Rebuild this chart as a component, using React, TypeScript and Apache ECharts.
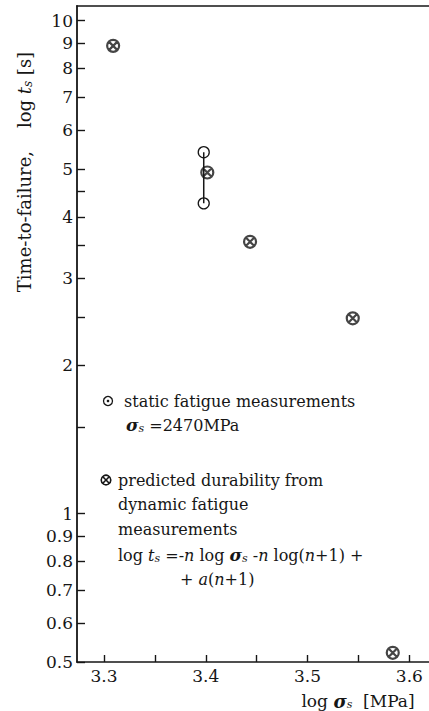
import React, { useEffect, useRef } from "react";
import * as echarts from "echarts";

// ---- data ----
const predictedX = [3.309, 3.4015, 3.4435, 3.5444, 3.5837];
const predictedY = [8.89, 4.92, 3.56, 2.49, 0.522];
const staticX = [3.398, 3.398];
const staticY = [5.41, 4.26];

// ---- axes ----
const yLabelTicks = [0.5, 0.6, 0.7, 0.8, 0.9, 1, 2, 3, 4, 5, 6, 7, 8, 9, 10];
const yMinorTicks = [1.5, 2.5, 3.5, 4.5];
const xLabelTicks = [3.3, 3.4, 3.5, 3.6];
const xMinorTicks = [3.35, 3.45, 3.55];
const xRange = [3.2735, 3.6193];
const yRange = [0.5, 10.71];

const SERIF = "'DejaVu Serif', 'Liberation Serif', serif";
const INK = "#161616";

const lg = (v: number) => Math.log10(v);

const rich = {
  n: { fontFamily: SERIF, fontSize: 16, fill: INK },
  i: { fontFamily: SERIF, fontSize: 16, fontStyle: "italic", fill: INK },
  g: { fontFamily: SERIF, fontSize: 17, fontStyle: "italic", fontWeight: "bold", fill: INK },
  sub: { fontFamily: SERIF, fontSize: 11, fontStyle: "italic", fill: INK, padding: [7, 0, 0, 0] },
};

const legendLines: { text: string; x: number; y: number }[] = [
  { text: "{n|static fatigue measurements}", x: 124, y: 401 },
  { text: "{g|σ}{sub|s}{n| =2470MPa}", x: 126, y: 425 },
  { text: "{n|predicted durability from}", x: 118, y: 480 },
  { text: "{n|dynamic fatigue}", x: 118, y: 504 },
  { text: "{n|measurements}", x: 118, y: 529 },
  {
    text: "{n|log }{i|t}{sub|s}{n| =-}{i|n}{n| log }{g|σ}{sub|s}{n| -}{i|n}{n| log(}{i|n}{n|+1) +}",
    x: 118,
    y: 555,
  },
  { text: "{n|+ }{i|a}{n|(}{i|n}{n|+1)}", x: 180, y: 579 },
];

export default function App() {
  const ref = useRef<HTMLDivElement>(null);

  useEffect(() => {
    if (!ref.current) return;
    const chart = echarts.init(ref.current, undefined, { renderer: "svg" });

    const predictedData = predictedX.map((x, i) => [x, lg(predictedY[i])]);
    const staticData = staticX.map((x, i) => [x, lg(staticY[i])]);

    const crossPath =
      "path://M0,12 A12,12 0 1,1 24,12 A12,12 0 1,1 0,12 Z M3.5,3.5 L20.5,20.5 M20.5,3.5 L3.5,20.5";

    const graphic: any[] = [
      // y axis title
      {
        type: "text",
        x: 24,
        y: 172,
        rotation: Math.PI / 2,
        style: {
          text: "{n|Time-to-failure,}{n|    log }{i|t}{sub|s}{n| [s]}",
          rich: {
            n: { fontFamily: SERIF, fontSize: 18, fill: INK },
            i: { fontFamily: SERIF, fontSize: 18, fontStyle: "italic", fill: INK },
            sub: { fontFamily: SERIF, fontSize: 12, fontStyle: "italic", fill: INK, padding: [7, 0, 0, 0] },
          },
          align: "center",
          verticalAlign: "middle",
        },
      },
      // x axis title
      {
        type: "text",
        x: 358,
        y: 701,
        style: {
          text: "{n|log }{g|σ}{sub|s}{n|  [MPa]}",
          rich: {
            n: { fontFamily: SERIF, fontSize: 17, fill: INK },
            g: { fontFamily: SERIF, fontSize: 18, fontStyle: "italic", fontWeight: "bold", fill: INK },
            sub: { fontFamily: SERIF, fontSize: 11, fontStyle: "italic", fill: INK, padding: [7, 0, 0, 0] },
          },
          align: "center",
          verticalAlign: "middle",
        },
      },
      // legend symbol: static (circle with dot)
      { type: "circle", shape: { cx: 108, cy: 401, r: 4.5 }, style: { fill: "none", stroke: INK, lineWidth: 1.3 } },
      { type: "circle", shape: { cx: 108, cy: 401, r: 1.3 }, style: { fill: INK } },
      // legend symbol: predicted (circle with cross)
      { type: "circle", shape: { cx: 106, cy: 480, r: 4.8 }, style: { fill: "none", stroke: INK, lineWidth: 1.6 } },
      { type: "line", shape: { x1: 102.8, y1: 476.8, x2: 109.2, y2: 483.2 }, style: { stroke: INK, lineWidth: 1.6 } },
      { type: "line", shape: { x1: 109.2, y1: 476.8, x2: 102.8, y2: 483.2 }, style: { stroke: INK, lineWidth: 1.6 } },
      ...legendLines.map((l) => ({
        type: "text",
        x: l.x,
        y: l.y,
        style: { text: l.text, rich, align: "left", verticalAlign: "middle" },
      })),
    ];

    chart.setOption({
      animation: false,
      backgroundColor: "#ffffff",
      grid: { left: 77, right: 0, top: 6, bottom: 49 },
      xAxis: [
        {
          type: "value",
          min: xRange[0],
          max: xRange[1],
          position: "bottom",
          axisLine: { show: true, onZero: false, lineStyle: { color: INK, width: 1.6 } },
          axisTick: {
            show: true,
            inside: true,
            length: 7,
            customValues: [...xLabelTicks, ...xMinorTicks].sort((a, b) => a - b),
            lineStyle: { color: INK, width: 1.4 },
          },
          axisLabel: {
            show: true,
            customValues: xLabelTicks,
            formatter: (v: number) => v.toFixed(1),
            fontFamily: SERIF,
            fontSize: 17,
            color: INK,
            margin: 5,
          },
          splitLine: { show: false },
        },
        {
          type: "value",
          min: xRange[0],
          max: xRange[1],
          position: "top",
          axisLine: { show: true, onZero: false, lineStyle: { color: INK, width: 1.6 } },
          axisTick: { show: false },
          axisLabel: { show: false },
          splitLine: { show: false },
        },
      ],
      yAxis: {
        type: "value",
        min: lg(yRange[0]),
        max: lg(yRange[1]),
        axisLine: { show: true, onZero: false, lineStyle: { color: INK, width: 1.8 } },
        axisTick: {
          show: true,
          inside: true,
          length: 8,
          customValues: [...yLabelTicks, ...yMinorTicks].map(lg),
          lineStyle: { color: INK, width: 1.4 },
        },
        axisLabel: {
          show: true,
          customValues: yLabelTicks.map(lg),
          formatter: (v: number) => String(Math.round(Math.pow(10, v) * 10) / 10),
          fontFamily: SERIF,
          fontSize: 17,
          color: INK,
          margin: 4,
        },
        splitLine: { show: false },
      },
      series: [
        {
          name: "static fatigue measurements",
          type: "line",
          data: staticData,
          symbol: "circle",
          symbolSize: 11,
          showSymbol: true,
          lineStyle: { color: INK, width: 1.5 },
          itemStyle: { color: "rgba(0,0,0,0)", borderColor: INK, borderWidth: 1.3 },
          z: 3,
        },
        {
          name: "predicted durability",
          type: "scatter",
          data: predictedData,
          symbol: crossPath,
          symbolSize: 12,
          itemStyle: { color: "rgba(0,0,0,0)", borderColor: INK, borderWidth: 2.2 },
          z: 4,
        },
      ],
      graphic,
    });

    return () => chart.dispose();
  }, []);

  return (
    <div
      ref={ref}
      style={{ position: "absolute", left: 0, top: 0, width: 429, height: 711, background: "#fff" }}
    />
  );
}
